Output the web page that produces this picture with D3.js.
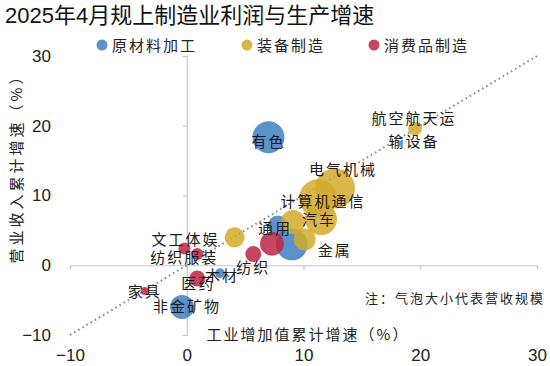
<!DOCTYPE html>
<html><head><meta charset="utf-8">
<script src="https://cdn.jsdelivr.net/npm/d3@7"></script>
<style>
body{margin:0;background:#fff;}
svg text{font-family:"Liberation Sans",Arial,"Noto Sans CJK SC",sans-serif;}
.cjk{font-family:"Noto Sans CJK SC",sans-serif;}
</style></head>
<body><svg id="c" width="550" height="366"></svg>
<script>
// ---- data ----
const groups = ["原材料加工","装备制造","消费品制造"];
const names   = ["有色","原材料A","原材料B","木材","非金矿物",
                 "航空航天运输设备","电气机械","计算机通信","汽车","通用","金属","专用",
                 "消费品A","纺织","文工体娱","纺织服装","医药","家具"];
const labels  = ["有色","","","木材","非金矿物",
                 "航空航天运\n输设备","电气机械","计算机通信","汽车","通用","金属","",
                 "","纺织","文工体娱","纺织服装","医药","家具"];
const groupOf = [0,0,0,0,0, 1,1,1,1,1,1,1, 2,2,2,2,2,2];
const indGrowth    = [7.0, 9.0, 7.8, 2.85, -0.4, 19.55, 12.7, 11.25, 11.5, 9.1, 10.1, 4.1, 7.3, 5.7, -0.2, 0.9, 0.9, -3.6];
const revGrowth    = [18.35, 3.0, 5.7, -1.15, -6.0, 19.6, 11.0, 9.6, 6.6, 6.2, 3.7, 4.0, 3.1, 1.6, 2.4, 1.6, -1.9, -3.7];
const revenueScale = [64, 64, 25, 6, 36, 12, 100, 90, 64, 36, 30, 25, 36, 16, 9, 9, 16, 4];
const ticks = [-10,0,10,20,30];

// ---- layout ----
const svg = d3.select("#c");
const x = d3.scaleLinear().domain([-10,30]).range([70,537]);
const y = d3.scaleLinear().domain([-10,30]).range([335,56]);
const r = d3.scaleSqrt().domain([0,100]).range([0,20]);
const colors = ["#3d7fc6","#d4aa2c","#bd2442"];

// title
svg.append("text").attr("x",5).attr("y",23).attr("font-size",22).attr("fill","#111")
   .text("2025年4月规上制造业利润与生产增速");

// legend
const lx = [102,247,374];
groups.forEach((g,i)=>{
  svg.append("circle").attr("cx",lx[i]).attr("cy",45).attr("r",5.5).attr("fill",colors[i]).attr("fill-opacity",0.85);
  svg.append("text").attr("class","cjk").attr("x",lx[i]+10).attr("y",50.5).attr("font-size",15)
     .attr("letter-spacing",2).attr("fill","#222").text(g);
});

// tick labels at plot edges
const yl = svg.append("g").attr("transform","translate(55,0)")
  .call(d3.axisLeft(y).tickValues(ticks).tickSize(0).tickPadding(4));
yl.select(".domain").remove();
yl.selectAll("text").attr("font-size",17).attr("fill","#222").attr("font-family","Liberation Sans, Arial, sans-serif");
const xl = svg.append("g").attr("transform","translate(0,340)")
  .call(d3.axisBottom(x).tickValues(ticks).tickSize(0).tickPadding(9));
xl.select(".domain").remove();
xl.selectAll("text").attr("font-size",17).attr("fill","#222").attr("font-family","Liberation Sans, Arial, sans-serif");

// axis lines through zero
const ay = svg.append("g").attr("transform",`translate(${x(0)},0)`)
  .call(d3.axisLeft(y).tickValues(ticks).tickSize(4).tickSizeOuter(4).tickFormat(""));
const ax = svg.append("g").attr("transform",`translate(0,${y(0)})`)
  .call(d3.axisBottom(x).tickValues(ticks).tickSize(4).tickSizeOuter(4).tickFormat(""));
[ax,ay].forEach(a=>{a.selectAll("path,line").attr("stroke","#c8c8c8").attr("stroke-width",1.2);});

// y = x reference line
svg.append("line").attr("x1",x(-10)).attr("y1",y(-10)).attr("x2",x(30)).attr("y2",y(30))
   .attr("stroke","#8a8a8a").attr("stroke-width",2).attr("stroke-dasharray","1.6,3.2").attr("stroke-linecap","butt");

// bubbles
const data = names.map((n,i)=>({n, l:labels[i], g:groupOf[i], xv:indGrowth[i], yv:revGrowth[i], s:revenueScale[i]}));
svg.append("g").selectAll("circle").data(data).join("circle")
  .attr("cx",d=>x(d.xv)).attr("cy",d=>y(d.yv)).attr("r",d=>r(d.s))
  .attr("fill",d=>colors[d.g]).attr("fill-opacity",0.85);

// labels (pixel offsets from bubble centre)
const off = {"有色":[0,3],"航空航天运\n输设备":[-1,-11],"电气机械":[8,-20],"计算机通信":[5,2],"汽车":[-2,-1],
  "通用":[-18,5],"金属":[30,10],"文工体娱":[1,-10],"纺织服装":[-13,2],"纺织":[0,12],"木材":[2,1],
  "医药":[1,4],"家具":[0,-1],"非金矿物":[5,-2]};
data.filter(d=>d.l).forEach(d=>{
  const o = off[d.l]||[0,0];
  const lines = d.l.split("\n");
  lines.forEach((t,k)=>{
    svg.append("text").attr("class","cjk").attr("x",x(d.xv)+o[0]).attr("y",y(d.yv)+o[1]+k*23)
      .attr("text-anchor","middle").attr("dominant-baseline","central")
      .attr("font-size",15).attr("letter-spacing",2).attr("fill","#1a1a1a").text(t);
  });
});

// axis titles
svg.append("text").attr("class","cjk").attr("transform","translate(15,165) rotate(-90)")
  .attr("text-anchor","middle").attr("dominant-baseline","central").attr("font-size",15)
  .attr("letter-spacing",3).attr("fill","#222").text("营业收入累计增速（%）");
svg.append("text").attr("class","cjk").attr("x",308).attr("y",333)
  .attr("text-anchor","middle").attr("dominant-baseline","central").attr("font-size",15)
  .attr("letter-spacing",2).attr("fill","#222").text("工业增加值累计增速（%）");
svg.append("text").attr("class","cjk").attr("x",545).attr("y",297)
  .attr("text-anchor","end").attr("dominant-baseline","central").attr("font-size",13)
  .attr("letter-spacing",2).attr("fill","#222").text("注：气泡大小代表营收规模");
</script></body></html>
